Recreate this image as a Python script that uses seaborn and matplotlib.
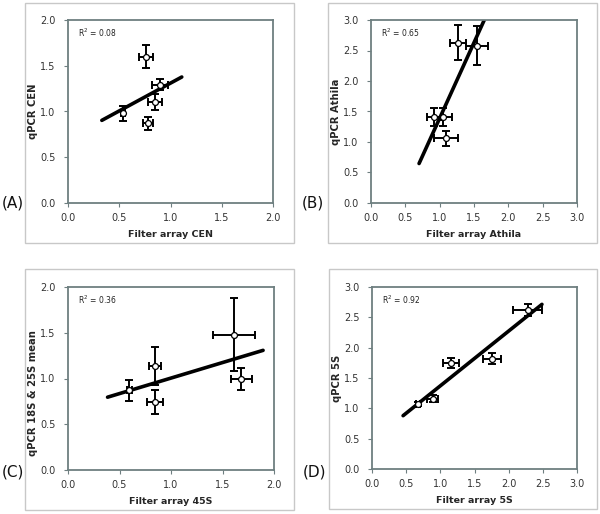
import numpy as np
import pandas as pd
import matplotlib
matplotlib.use("Agg")
import matplotlib.pyplot as plt
from matplotlib.patches import Rectangle
import seaborn as sns

sns.set_style("white")
plt.rcParams['font.family'] = ['DejaVu Sans']

# ---------------- data ----------------
# Panel A: CEN
cen_x = [0.76, 0.90, 0.85, 0.54, 0.78]
cen_y = [1.60, 1.29, 1.10, 0.98, 0.87]
cen_xerr = [0.065, 0.076, 0.065, 0.02, 0.05]
cen_yerr = [0.13, 0.06, 0.087, 0.08, 0.07]
cen_line_x = [0.33, 1.11]

# Panel B: Athila
ath_x = [1.264, 1.54, 0.92, 1.045, 1.094]
ath_y = [2.63, 2.58, 1.41, 1.41, 1.06]
ath_xerr = [0.12, 0.16, 0.10, 0.13, 0.175]
ath_yerr = [0.29, 0.32, 0.15, 0.15, 0.12]
ath_line_x = [0.70, 1.70]

# Panel C: 45S
s45_x = [1.613, 0.845, 1.684, 0.597, 0.842]
s45_y = [1.478, 1.139, 0.993, 0.869, 0.741]
s45_xerr = [0.205, 0.056, 0.106, 0.02, 0.077]
s45_yerr = [0.40, 0.205, 0.12, 0.11, 0.128]
s45_line_x = [0.384, 1.894]

# Panel D: 5S
s5_x = [2.276, 1.752, 1.155, 0.886, 0.671]
s5_y = [2.62, 1.82, 1.754, 1.158, 1.075]
s5_xerr = [0.21, 0.13, 0.12, 0.083, 0.03]
s5_yerr = [0.10, 0.09, 0.083, 0.055, 0.03]
s5_line_x = [0.455, 2.487]

panel_labels = ["(A)", "(B)", "(C)", "(D)"]
x_labels = ["Filter array CEN", "Filter array Athila", "Filter array 45S", "Filter array 5S"]
y_labels = ["qPCR CEN", "qPCR Athila", "qPCR 18S & 25S mean", "qPCR 5S"]
r2_labels = ["R$^2$ = 0.08", "R$^2$ = 0.65", "R$^2$ = 0.36", "R$^2$ = 0.92"]
axis_max = [2.0, 3.0, 2.0, 3.0]

panels = [
    (cen_x, cen_y, cen_xerr, cen_yerr, cen_line_x),
    (ath_x, ath_y, ath_xerr, ath_yerr, ath_line_x),
    (s45_x, s45_y, s45_xerr, s45_yerr, s45_line_x),
    (s5_x, s5_y, s5_xerr, s5_yerr, s5_line_x),
]

# ---------------- layout ----------------
W, H = 600, 514
fig = plt.figure(figsize=(W / 100, H / 100), dpi=100)

def fx(px):
    return px / W

def fy(py):
    return 1 - py / H

axes_px = [
    (68, 20, 273, 203),
    (371, 20, 577, 203),
    (68, 287, 274, 470),
    (372, 287, 577, 469),
]
frames_px = [
    (25, 3, 294, 243),
    (328, 3, 597, 243),
    (25, 269, 294, 510),
    (329, 269, 597, 509),
]
label_pos_px = [(13, 203), (313, 203), (13, 472), (315, 472)]
ylabel_ypos = [0.5, 0.5, 0.42, 0.5]

spine_col = "#6e7f80"

for i, (xs, ys, xe, ye, lx) in enumerate(panels):
    l, t, r, b = frames_px[i]
    fig.patches.append(Rectangle((fx(l), fy(b)), fx(r) - fx(l), fy(t) - fy(b),
                                 transform=fig.transFigure, fill=False,
                                 edgecolor="#c8c8c8", linewidth=1.0, zorder=0))
    l, t, r, b = axes_px[i]
    ax = fig.add_axes([fx(l), fy(b), fx(r) - fx(l), fy(t) - fy(b)])
    df = pd.DataFrame({"x": xs, "y": ys})

    # regression line (least squares fit of the points)
    slope, intercept = np.polyfit(xs, ys, 1)
    line_df = pd.DataFrame({"x": lx, "y": [slope * v + intercept for v in lx]})
    sns.lineplot(data=line_df, x="x", y="y", ax=ax, color="black", linewidth=2.6,
                 zorder=2)

    ax.errorbar(xs, ys, xerr=xe, yerr=ye, fmt="none", ecolor="black",
                elinewidth=1.4, capsize=2.6, capthick=1.4, zorder=3)
    sns.scatterplot(data=df, x="x", y="y", ax=ax, s=18, color="white",
                    edgecolor="black", linewidth=0.9, zorder=4)

    m = axis_max[i]
    ax.set_xlim(0, m)
    ax.set_ylim(0, m)
    ticks = np.arange(0, m + 0.01, 0.5)
    ax.set_xticks(ticks)
    ax.set_yticks(ticks)
    ax.set_xticklabels([f"{v:.1f}" for v in ticks])
    ax.set_yticklabels([f"{v:.1f}" for v in ticks])
    ax.tick_params(axis="both", direction="out", length=3, width=0.8,
                   color=spine_col, labelsize=7, labelcolor="#333333",
                   bottom=True, left=True)
    ax.tick_params(axis="y", pad=6)
    ax.tick_params(axis="x", pad=4)
    for sp in ax.spines.values():
        sp.set_visible(True)
        sp.set_color(spine_col)
        sp.set_linewidth(1.3)
    ax.set_xlabel(x_labels[i], fontsize=6.8, fontweight="bold")
    ax.set_ylabel(y_labels[i], fontsize=7.2, fontweight="bold")
    ax.xaxis.set_label_coords(0.5, -0.15)
    ax.yaxis.set_label_coords(-0.145, ylabel_ypos[i])
    ax.text(0.05, 0.93, r2_labels[i], transform=ax.transAxes, fontsize=5.5,
            color="#222222", va="center", ha="left")

    lxp, lyp = label_pos_px[i]
    fig.text(fx(lxp), fy(lyp), panel_labels[i], fontsize=11, ha="center",
             va="center", color="#111111")

fig.savefig("out.png", dpi=100)
